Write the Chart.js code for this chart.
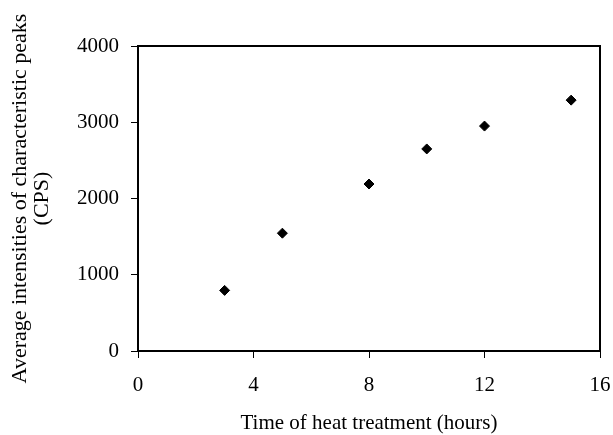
<!DOCTYPE html>
<html lang="en">
<head>
    <meta charset="UTF-8">
    <title>Heat treatment</title>
    <script src="https://cdn.jsdelivr.net/npm/chart.js"></script>
    <style>
        html, body {
            margin: 0;
            padding: 0;
            background: #ffffff;
        }
        .wrap {
            width: 613px;
            height: 435px;
        }
    </style>
</head>
<body>
    <div class="wrap">
        <canvas id="chart" width="613" height="435"></canvas>
    </div>
    <script>
        // data
        const hours = [3, 5, 8, 10, 12, 15];
        const intensity = [795, 1545, 2190, 2650, 2950, 3290];
        const xTicks = [0, 4, 8, 12, 16];
        const yTicks = [0, 1000, 2000, 3000, 4000];

        const serif = 'Liberation Serif, Times New Roman, serif';

        // box around plot area
        const frame = {
            id: 'frame',
            afterDraw(chart) {
                const a = chart.chartArea;
                const ctx = chart.ctx;
                ctx.save();
                ctx.strokeStyle = '#000';
                ctx.lineWidth = 2;
                ctx.strokeRect(a.left, a.top, a.right - a.left, a.bottom - a.top);
                ctx.restore();
            }
        };

        const ctx = document.getElementById('chart').getContext('2d');
        new Chart(ctx, {
            type: 'scatter',
            data: {
                datasets: [{
                    data: hours.map((h, i) => ({ x: h, y: intensity[i] })),
                    pointStyle: 'rectRot',
                    pointRadius: 5,
                    pointBorderWidth: 1,
                    backgroundColor: '#000',
                    borderColor: '#000'
                }]
            },
            options: {
                responsive: false,
                animation: false,
                layout: { padding: { top: 46, right: 13, left: 0, bottom: 0 } },
                plugins: {
                    legend: { display: false },
                    tooltip: { enabled: false }
                },
                scales: {
                    x: {
                        type: 'linear',
                        min: xTicks[0],
                        max: xTicks[xTicks.length - 1],
                        afterBuildTicks: s => { s.ticks = xTicks.map(v => ({ value: v })); },
                        afterFit: s => {
                            s.height = 84;
                            s.paddingLeft = 0;
                            s.paddingRight = 0;
                        },
                        grid: { drawOnChartArea: false, drawTicks: true, tickLength: 7, color: '#000' },
                        border: { display: true, color: '#000', width: 2 },
                        ticks: {
                            color: '#000',
                            padding: 15,
                            font: { family: serif, size: 21 },
                            callback: v => String(v)
                        },
                        title: {
                            display: true,
                            text: 'Time of heat treatment (hours)',
                            color: '#000',
                            padding: { top: 0, bottom: -1 },
                            font: { family: serif, size: 21 }
                        }
                    },
                    y: {
                        min: yTicks[0],
                        max: yTicks[yTicks.length - 1],
                        afterBuildTicks: s => { s.ticks = yTicks.map(v => ({ value: v })); },
                        afterFit: s => {
                            s.width = 138;
                            s.paddingTop = 0;
                            s.paddingBottom = 0;
                        },
                        grid: { drawOnChartArea: false, drawTicks: true, tickLength: 7, color: '#000' },
                        border: { display: true, color: '#000', width: 2 },
                        ticks: {
                            color: '#000',
                            padding: 12,
                            font: { family: serif, size: 21 },
                            callback: v => String(v)
                        },
                        title: {
                            display: true,
                            text: ['Average intensities of characteristic peaks', '(CPS)'],
                            color: '#000',
                            padding: { top: 9, bottom: 0 },
                            font: { family: serif, size: 22, lineHeight: 1.0 }
                        }
                    }
                }
            },
            plugins: [frame]
        });
    </script>
</body>
</html>
